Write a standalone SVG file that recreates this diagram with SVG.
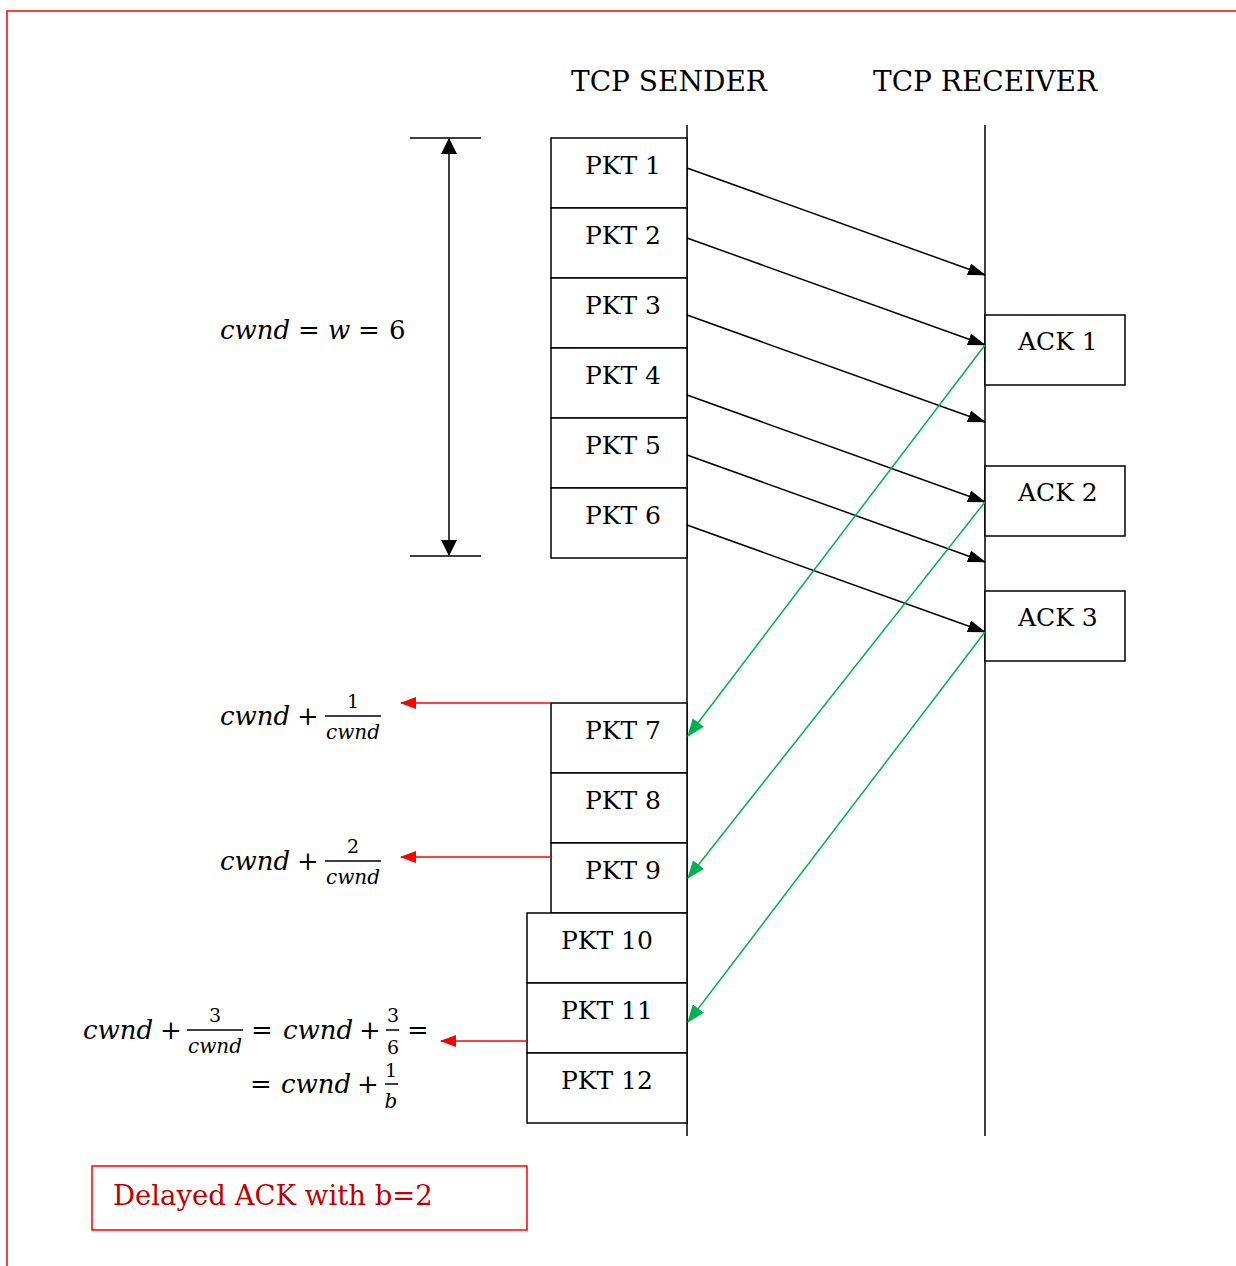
<svg xmlns="http://www.w3.org/2000/svg" width="1236" height="1266" viewBox="0 0 1236 1266">
<defs>
<marker id="ab" markerWidth="18" markerHeight="12" refX="17" refY="6" orient="auto" markerUnits="userSpaceOnUse"><path d="M0,0 L18,6 L0,12 z" fill="#000"/></marker>
<marker id="ag" markerWidth="18" markerHeight="14" refX="17" refY="7" orient="auto" markerUnits="userSpaceOnUse"><path d="M0,0 L18,7 L0,14 z" fill="#00b050"/></marker>
<marker id="ar" markerWidth="16" markerHeight="12" refX="15" refY="6" orient="auto" markerUnits="userSpaceOnUse"><path d="M0,0 L16,6 L0,12 z" fill="#ff0000"/></marker>
<marker id="ad" markerWidth="16" markerHeight="16" refX="15" refY="8" orient="auto-start-reverse" markerUnits="userSpaceOnUse"><path d="M0,0 L16,8 L0,16 z" fill="#000"/></marker>
</defs>
<style>
.box{fill:#fff;stroke:#000;stroke-width:1.5}
.t{font-family:"DejaVu Serif","Liberation Serif",serif;font-size:25px;fill:#000}
.h{font-family:"DejaVu Serif","Liberation Serif",serif;font-size:28px;fill:#000}
.m{font-family:"DejaVu Serif","Liberation Serif",serif;font-size:26px;fill:#000;font-style:italic}
.mn{font-family:"DejaVu Serif","Liberation Serif",serif;font-size:26px;fill:#000}
.s{font-family:"DejaVu Serif","Liberation Serif",serif;font-size:20px;fill:#000;font-style:italic}
.sn{font-family:"DejaVu Serif","Liberation Serif",serif;font-size:19px;fill:#000}
.ln{stroke:#000;stroke-width:1.5;fill:none}
.bar{stroke:#000;stroke-width:1.5}
</style>
<g id="frame"><path d="M7,1266 L7,11 L1236,11" fill="none" stroke="#ff0000" stroke-width="1.5"/></g>
<g id="headers">
<text class="h" x="571" y="91">TCP SENDER</text>
<text class="h" x="873" y="91">TCP RECEIVER</text>
</g>
<g id="lifelines">
<line class="ln" x1="687" y1="125" x2="687" y2="1136"/>
<line class="ln" x1="985" y1="125" x2="985" y2="1136"/>
</g>
<g id="pkt1"><rect class="box" x="551" y="138" width="136" height="70"/><text class="t" x="585" y="174">PKT 1</text></g>
<g id="pkt2"><rect class="box" x="551" y="208" width="136" height="70"/><text class="t" x="585" y="244">PKT 2</text></g>
<g id="pkt3"><rect class="box" x="551" y="278" width="136" height="70"/><text class="t" x="585" y="314">PKT 3</text></g>
<g id="pkt4"><rect class="box" x="551" y="348" width="136" height="70"/><text class="t" x="585" y="384">PKT 4</text></g>
<g id="pkt5"><rect class="box" x="551" y="418" width="136" height="70"/><text class="t" x="585" y="454">PKT 5</text></g>
<g id="pkt6"><rect class="box" x="551" y="488" width="136" height="70"/><text class="t" x="585" y="524">PKT 6</text></g>
<g id="pkt7"><rect class="box" x="551" y="703" width="136" height="70"/><text class="t" x="585" y="739">PKT 7</text></g>
<g id="pkt8"><rect class="box" x="551" y="773" width="136" height="70"/><text class="t" x="585" y="809">PKT 8</text></g>
<g id="pkt9"><rect class="box" x="551" y="843" width="136" height="70"/><text class="t" x="585" y="879">PKT 9</text></g>
<g id="pkt10"><rect class="box" x="527" y="913" width="160" height="70"/><text class="t" x="561" y="949">PKT 10</text></g>
<g id="pkt11"><rect class="box" x="527" y="983" width="160" height="70"/><text class="t" x="561" y="1019">PKT 11</text></g>
<g id="pkt12"><rect class="box" x="527" y="1053" width="160" height="70"/><text class="t" x="561" y="1089">PKT 12</text></g>
<g id="ack1"><rect class="box" x="985" y="315" width="140" height="70"/><text class="t" x="1018" y="350">ACK 1</text></g>
<g id="ack2"><rect class="box" x="985" y="466" width="140" height="70"/><text class="t" x="1018" y="501">ACK 2</text></g>
<g id="ack3"><rect class="box" x="985" y="591" width="140" height="70"/><text class="t" x="1018" y="626">ACK 3</text></g>
<g id="window">
<line class="ln" x1="410" y1="138" x2="481" y2="138"/>
<line class="ln" x1="410" y1="556" x2="481" y2="556"/>
<line class="ln" x1="449" y1="139" x2="449" y2="555" marker-start="url(#ad)" marker-end="url(#ad)"/>
<text class="m" x="220" y="339">cwnd</text>
<text class="mn" x="298" y="339">=</text>
<text class="m" x="328" y="339">w</text>
<text class="mn" x="358" y="339">=</text>
<text class="mn" x="389" y="339">6</text>
</g>
<g id="connectors">
<line class="ln" x1="687" y1="168" x2="985" y2="275" marker-end="url(#ab)"/>
<line class="ln" x1="687" y1="238" x2="985" y2="345" marker-end="url(#ab)"/>
<line class="ln" x1="687" y1="315" x2="985" y2="422" marker-end="url(#ab)"/>
<line class="ln" x1="687" y1="395" x2="985" y2="502" marker-end="url(#ab)"/>
<line class="ln" x1="687" y1="455" x2="985" y2="562" marker-end="url(#ab)"/>
<line class="ln" x1="687" y1="525" x2="985" y2="632" marker-end="url(#ab)"/>
<line x1="985" y1="345" x2="688" y2="736" stroke="#00b050" stroke-width="1.5" marker-end="url(#ag)"/>
<line x1="985" y1="502" x2="688" y2="878" stroke="#00b050" stroke-width="1.5" marker-end="url(#ag)"/>
<line x1="985" y1="632" x2="688" y2="1022" stroke="#00b050" stroke-width="1.5" marker-end="url(#ag)"/>
<line x1="551" y1="703" x2="401" y2="703" stroke="#ff0000" stroke-width="1.5" marker-end="url(#ar)"/>
<line x1="551" y1="857" x2="401" y2="857" stroke="#ff0000" stroke-width="1.5" marker-end="url(#ar)"/>
<line x1="527" y1="1041" x2="441" y2="1041" stroke="#ff0000" stroke-width="1.5" marker-end="url(#ar)"/>
</g>
<g id="formula1">
<text class="m" x="220" y="725">cwnd</text>
<text class="mn" x="297" y="725">+</text>
<text class="sn" x="353" y="708" text-anchor="middle">1</text>
<line class="bar" x1="325" y1="716" x2="381" y2="716"/>
<text class="s" x="353" y="739" text-anchor="middle">cwnd</text>
</g>
<g id="formula2">
<text class="m" x="220" y="870">cwnd</text>
<text class="mn" x="297" y="870">+</text>
<text class="sn" x="353" y="853" text-anchor="middle">2</text>
<line class="bar" x1="325" y1="861" x2="381" y2="861"/>
<text class="s" x="353" y="884" text-anchor="middle">cwnd</text>
</g>
<g id="formula3">
<text class="m" x="83" y="1039">cwnd</text>
<text class="mn" x="160" y="1039">+</text>
<text class="sn" x="215" y="1022" text-anchor="middle">3</text>
<line class="bar" x1="187" y1="1030" x2="243" y2="1030"/>
<text class="s" x="215" y="1053" text-anchor="middle">cwnd</text>
<text class="mn" x="251" y="1039">=</text>
<text class="m" x="283" y="1039">cwnd</text>
<text class="mn" x="359" y="1039">+</text>
<text class="sn" x="393" y="1022" text-anchor="middle">3</text>
<line class="bar" x1="386" y1="1030" x2="399" y2="1030"/>
<text class="sn" x="393" y="1054" text-anchor="middle">6</text>
<text class="mn" x="407" y="1039">=</text>
<text class="mn" x="250" y="1093">=</text>
<text class="m" x="281" y="1093">cwnd</text>
<text class="mn" x="357" y="1093">+</text>
<text class="sn" x="391" y="1077" text-anchor="middle">1</text>
<line class="bar" x1="385" y1="1084" x2="398" y2="1084"/>
<text class="s" x="391" y="1108" text-anchor="middle">b</text>
</g>
<g id="note">
<rect x="92" y="1166" width="435" height="64" fill="#fff" stroke="#ff0000" stroke-width="1.5"/>
<text x="113" y="1205" style="font-family:'DejaVu Serif','Liberation Serif',serif;font-size:27.5px;fill:#c00000">Delayed ACK with b=2</text>
</g>
</svg>
